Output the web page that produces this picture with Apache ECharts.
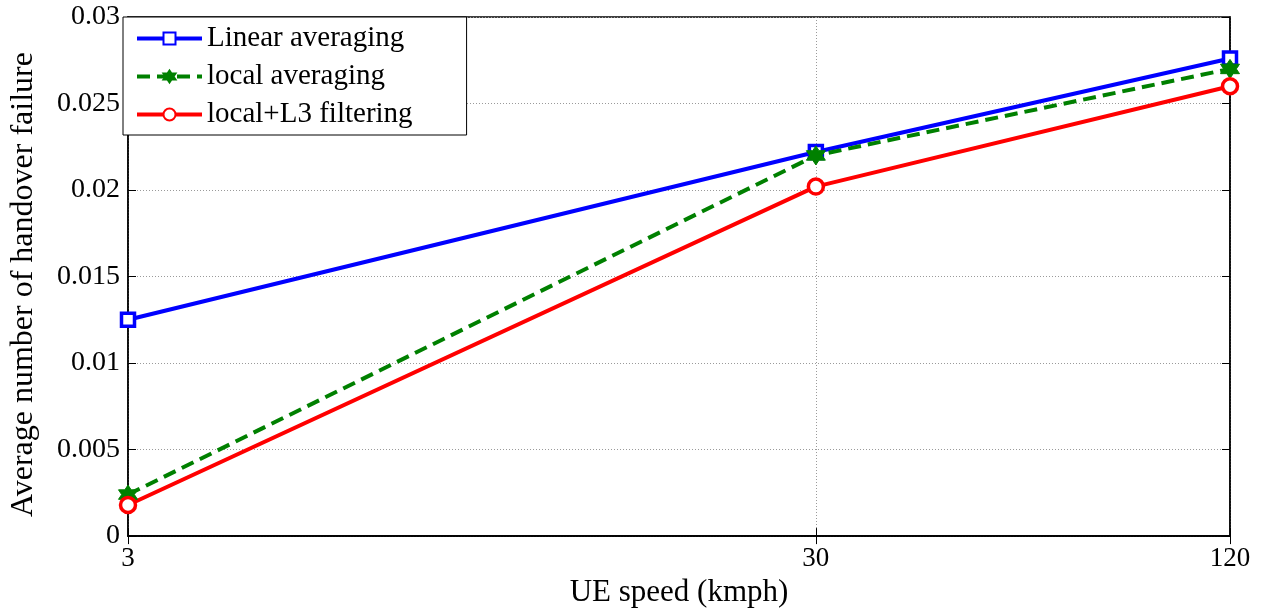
<!DOCTYPE html>
<html lang="en">

<head>
    <meta charset="UTF-8">
    <title>Handover failure vs UE speed</title>
    <script src="https://cdn.jsdelivr.net/npm/echarts@6.0.0/dist/echarts.min.js"></script>
    <style>
        body { margin: 0; background: #fff; }
    </style>
</head>

<body>
    <div id="main" style="width: 1266px;height:613px;"></div>
    <script type="text/javascript">
        // data
        const speeds = [3, 30, 120];
        const linearAvg = [0.0125, 0.0222, 0.0276];
        const localAvg = [0.0024, 0.0220, 0.0270];
        const localL3 = [0.0018, 0.0202, 0.0260];

        const font = 'Liberation Serif';
        // six pointed star like matlab's hexagram marker
        const hexagram = 'path://M100,0L128.9,50L186.6,50L157.7,100L186.6,150L128.9,150L100,200L71.1,150L13.4,150L42.3,100L13.4,50L71.1,50Z';

        function pairs(vals) {
            return speeds.map((s, i) => [s, vals[i]]);
        }

        const dotted = { show: true, lineStyle: { color: '#9a9a9a', type: [1, 2], width: 1 } };
        const blackLine = { show: true, lineStyle: { color: '#000', width: 1.5 } };
        const inTick = { show: true, inside: true, length: 8, lineStyle: { color: '#000' } };

        let options = {
            animation: false,
            backgroundColor: '#fff',
            textStyle: { fontFamily: font },
            grid: { left: 123, right: 36, top: 17, bottom: 73, show: true, borderColor: '#000', borderWidth: 1.5 },
            legend: {
                orient: 'vertical',
                left: 123,
                top: 17,
                padding: [7, 54, 6, 12],
                itemWidth: 65,
                itemHeight: 15,
                itemGap: 9,
                backgroundColor: '#fff',
                borderColor: '#000',
                borderWidth: 1,
                lineStyle: { width: 4 },
                textStyle: { fontFamily: font, fontSize: 29, color: '#000', lineHeight: 29 },
                data: ['Linear averaging', 'local averaging', 'local+L3 filtering']
            },
            xAxis: [{
                type: 'log',
                logBase: 10,
                min: 3,
                max: 120,
                name: 'UE speed (kmph)',
                nameLocation: 'middle',
                nameGap: 22,
                nameTextStyle: { fontFamily: font, fontSize: 31, color: '#000' },
                axisLine: blackLine,
                axisTick: Object.assign({ customValues: speeds }, inTick),
                axisLabel: { customValues: speeds, fontFamily: font, fontSize: 27, color: '#000', margin: 9 },
                splitLine: dotted
            }, {
                type: 'log',
                logBase: 10,
                min: 3,
                max: 120,
                position: 'top',
                axisLine: blackLine,
                axisTick: Object.assign({ customValues: speeds }, inTick),
                axisLabel: { show: false },
                splitLine: { show: false }
            }],
            yAxis: [{
                type: 'value',
                min: 0,
                max: 0.03,
                interval: 0.005,
                name: 'Average number of handover failure',
                nameLocation: 'middle',
                nameGap: 88,
                nameTextStyle: { fontFamily: font, fontSize: 32, color: '#000', padding: [0, 16, 0, 0] },
                axisLine: blackLine,
                axisTick: inTick,
                axisLabel: {
                    fontFamily: font, fontSize: 28, color: '#000', margin: 8,
                    formatter: (v) => String(+v.toFixed(3))
                },
                splitLine: dotted
            }, {
                type: 'value',
                min: 0,
                max: 0.03,
                interval: 0.005,
                position: 'right',
                axisLine: blackLine,
                axisTick: inTick,
                axisLabel: { show: false },
                splitLine: { show: false }
            }],
            series: [{
                name: 'Linear averaging',
                type: 'line',
                data: pairs(linearAvg),
                symbol: 'rect',
                symbolSize: 13,
                lineStyle: { color: '#0000ff', width: 4 },
                itemStyle: { color: '#ffffff', borderColor: '#0000ff', borderWidth: 3.5 }
            }, {
                name: 'local averaging',
                type: 'line',
                data: pairs(localAvg),
                symbol: hexagram,
                symbolSize: 19,
                lineStyle: { color: '#008000', width: 4, type: [13, 7] },
                itemStyle: { color: '#008000', borderColor: '#008000', borderWidth: 1 }
            }, {
                name: 'local+L3 filtering',
                type: 'line',
                data: pairs(localL3),
                symbol: 'circle',
                symbolSize: 15,
                lineStyle: { color: '#ff0000', width: 4 },
                itemStyle: { color: '#ffffff', borderColor: '#ff0000', borderWidth: 3.5 }
            }]
        };

        let myChart = echarts.init(document.getElementById('main'));
        myChart.setOption(options);
    </script>
</body>

</html>
